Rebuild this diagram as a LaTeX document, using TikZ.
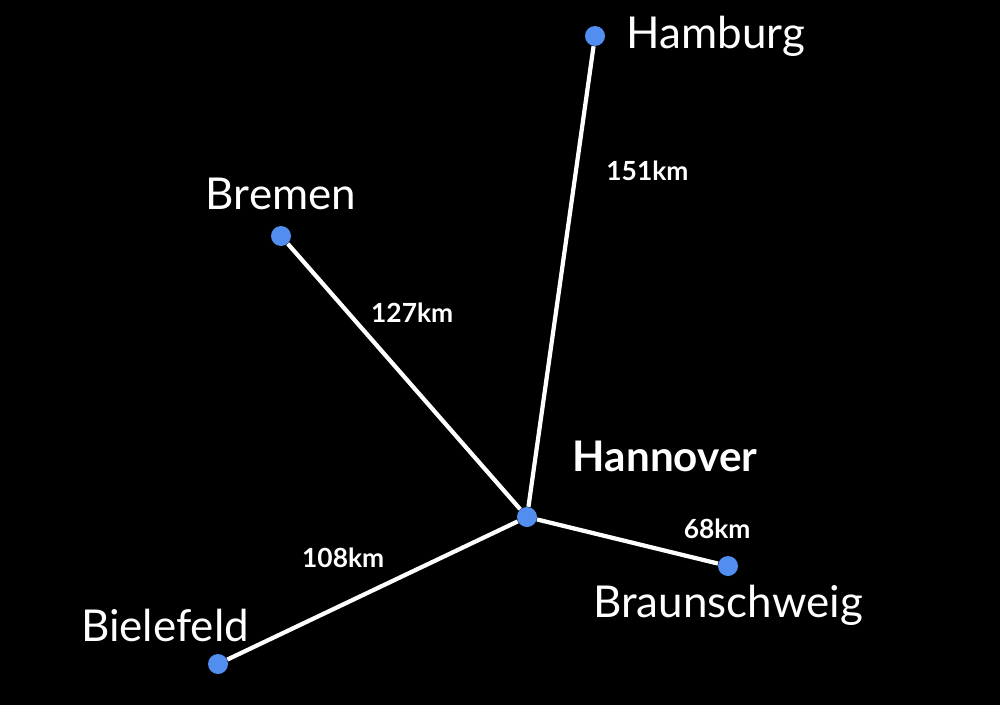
\documentclass[tikz,border=0pt]{standalone}
\usepackage{fontspec}
\setmainfont{Lato}
\usetikzlibrary{positioning}
\definecolor{dotblue}{RGB}{82,142,240}
\begin{document}
\begin{tikzpicture}[
    city/.style={circle, fill=dotblue, draw=none, minimum size=0.4cm, inner sep=0pt},
    citylabel/.style={text=white, font=\fontsize{25}{28}\selectfont},
    road/.style={white, line width=2.4pt},
    dist/.style={text=white, font=\fontsize{15}{17}\selectfont\bfseries}]
  \fill[black] (0,0) rectangle (20,14.1);
  \useasboundingbox (0,0) rectangle (20,14.1);

  % Städte
  \node[city] (han) at (10.54,3.76) {};
  \node[city] (ham) at (11.90,13.38) {};
  \node[city] (bre) at (5.62,9.38) {};
  \node[city] (bs)  at (14.56,2.78) {};
  \node[city] (bi)  at (4.36,0.82) {};

  % Namen
  \node[citylabel, right=0.3cm of ham] (hamlbl) {Hamburg};
  \node[citylabel, above=0.2cm of bre] (brelbl) {Bremen};
  \node[citylabel, font=\fontsize{24}{27}\selectfont\bfseries] (hanlbl) at (13.3,4.98) {Hannover};
  \node[citylabel, below=0.05cm of bs] (bslbl) {Braunschweig};
  \node[citylabel] (bilbl) at (3.3,1.6) {Bielefeld};

  % Straßen
  \draw[road] (han) -- (ham) node[dist, pos=0.73, right=0.45cm] {151km};
  \draw[road] (han) -- (bre) node[dist, pos=0.74, right=0.3cm] {127km};
  \draw[road] (han) -- (bs) node[dist, pos=0.85, above right=0.2cm and -0.3cm] {68km};
  \draw[road] (han) -- (bi) node[dist, pos=0.42, above left=0.1cm] {108km};
\end{tikzpicture}
\end{document}
